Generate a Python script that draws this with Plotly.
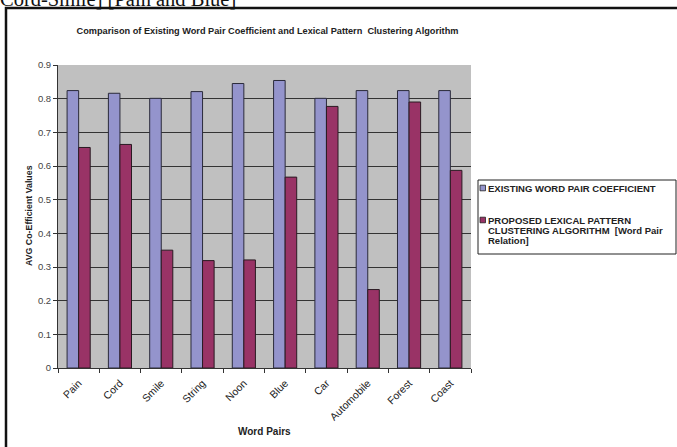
import plotly.graph_objects as go

categories = ["Pain", "Cord", "Smile", "String", "Noon", "Blue", "Car", "Automobile", "Forest", "Coast"]
existing = [0.824, 0.816, 0.801, 0.821, 0.845, 0.854, 0.801, 0.824, 0.824, 0.824]
proposed = [0.655, 0.664, 0.350, 0.319, 0.321, 0.567, 0.777, 0.233, 0.790, 0.587]
y_ticks = [0, 0.1, 0.2, 0.3, 0.4, 0.5, 0.6, 0.7, 0.8, 0.9]
series_names = ["EXISTING WORD PAIR COEFFICIENT",
                "PROPOSED LEXICAL PATTERN<br>CLUSTERING ALGORITHM  [Word Pair<br>Relation]"]
series_colors = ["#9494CC", "#993366"]

FONT = "Arial, 'Liberation Sans', sans-serif"

# plot area in pixels
PL, PR, PT, PB = 58, 471, 65, 368


def px(x):
    return (x - PL) / (PR - PL)


def py(y):
    return (PB - y) / (PB - PT)


fig = go.Figure()
fig.add_trace(go.Bar(
    x=categories, y=existing, name=series_names[0],
    marker=dict(color=series_colors[0], line=dict(color="#2a2a3a", width=1)),
))
fig.add_trace(go.Bar(
    x=categories, y=proposed, name=series_names[1],
    marker=dict(color=series_colors[1], line=dict(color="#2a1a22", width=1)),
))

fig.update_layout(
    width=677, height=447,
    margin=dict(l=PL, r=677 - PR, t=PT, b=447 - PB, autoexpand=False),
    paper_bgcolor="white",
    plot_bgcolor="#C0C0C0",
    barmode="group", bargap=0.44, bargroupgap=0,
    font=dict(family=FONT, color="#222"),
    title=dict(
        text="<b>Comparison of Existing Word Pair Coefficient and Lexical Pattern  Clustering Algorithm</b>",
        x=267.5 / 677, xanchor="center", y=(447 - 31) / 447, yanchor="middle",
        font=dict(size=9.2, family=FONT, color="#222"),
    ),
    showlegend=False,
)

fig.update_xaxes(
    automargin=False,
    showline=True, linecolor="#333", linewidth=1,
    ticks="outside", tickson="boundaries", ticklen=4, tickcolor="#333",
    tickangle=-45, tickfont=dict(size=10.5, family=FONT, color="#222"),
    ticklabelstandoff=4,
    showgrid=False,
)
fig.update_yaxes(
    automargin=False,
    range=[0, 0.9], tickvals=y_ticks,
    showline=True, linecolor="#333", linewidth=1,
    ticks="outside", ticklen=4, tickcolor="#333",
    tickfont=dict(size=9.5, family=FONT, color="#444"),
    showgrid=True, gridcolor="#333", gridwidth=1,
    zeroline=False,
)

# axis titles
fig.add_annotation(
    text="<b>Word Pairs</b>", xref="paper", yref="paper",
    x=px(264), y=py(432), xanchor="center", yanchor="middle", showarrow=False,
    font=dict(size=10, family=FONT, color="#222"),
)
fig.add_annotation(
    text="<b>AVG Co-Efficient Values</b>", xref="paper", yref="paper",
    x=px(29), y=py(216), xanchor="center", yanchor="middle", showarrow=False,
    textangle=-90, font=dict(size=8.8, family=FONT, color="#222"),
)

# outer frame (cropped on right and bottom in the reference)
fig.add_shape(
    type="rect", xref="paper", yref="paper",
    x0=px(6), x1=px(700), y0=py(470), y1=py(8),
    line=dict(color="#111", width=2.5), fillcolor="rgba(0,0,0,0)", layer="above",
)

# legend box drawn by hand
fig.add_shape(
    type="rect", xref="paper", yref="paper",
    x0=px(478), x1=px(676), y0=py(254), y1=py(180),
    line=dict(color="#222", width=1), fillcolor="white", layer="above",
)
legend_rows = [[188], [220, 230, 240]]
for name, color, rows in zip(series_names, series_colors, legend_rows):
    y0 = rows[0]
    fig.add_shape(
        type="rect", xref="paper", yref="paper",
        x0=px(480), x1=px(485.5), y0=py(y0 + 2.8), y1=py(y0 - 2.8),
        line=dict(color="#222", width=0.8), fillcolor=color, layer="above",
    )
    for line_text, yy in zip(name.split("<br>"), rows):
        fig.add_annotation(
            text="<b>" + line_text + "</b>", xref="paper", yref="paper",
            x=px(486), y=py(yy), xanchor="left", yanchor="middle",
            showarrow=False, font=dict(size=9.5, family=FONT, color="#222"),
        )

# cropped caption text from the page above the chart
fig.add_annotation(
    text="Cord-Smile] [Pain and Blue]",
    xref="paper", yref="paper",
    x=px(-2), y=py(12), xanchor="left", yanchor="bottom", showarrow=False,
    font=dict(size=20.5, family="'Liberation Serif', 'Times New Roman', serif", color="#111"),
)

fig.write_html("out.html")
